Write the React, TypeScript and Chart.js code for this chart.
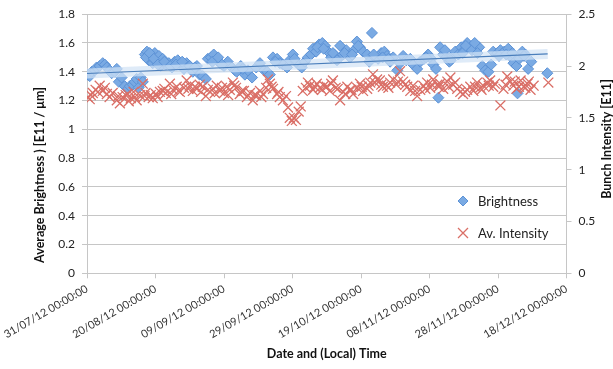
import React, { useEffect, useRef } from 'react';
import { Chart, registerables } from 'chart.js';

Chart.register(...registerables);

const FONT = 'Lato, "Open Sans", sans-serif';

const xTickLabels = [
  '31/07/12 00:00:00', '20/08/12 00:00:00', '09/09/12 00:00:00', '29/09/12 00:00:00',
  '19/10/12 00:00:00', '08/11/12 00:00:00', '28/11/12 00:00:00', '18/12/12 00:00:00',
];

// days since 31/07/12
const brightDays = [
  0.2, 0.8, 1.4, 2.3, 2.8, 3.7, 4.6, 5.2, 5.8, 6.6, 7.2, 8.1, 8.7, 9.3, 10.1, 11.0, 11.9, 12.5, 13.4, 13.9,
  14.5, 15.1, 15.7, 16.3, 16.9, 17.5, 18.0, 18.6, 19.2, 19.8, 20.4, 21.0, 21.5, 22.1, 23.0, 23.9, 24.8, 25.6, 26.5, 27.4,
  28.3, 29.1, 30.0, 30.9, 32.1, 32.9, 33.8, 34.7, 35.3, 36.2, 37.0, 37.9, 38.8, 40.0, 41.1, 42.3, 43.2, 43.7, 44.9, 46.1,
  47.0, 48.2, 49.4, 50.5, 51.7, 52.6, 53.4, 54.3, 55.5, 56.3, 57.2, 58.4, 59.2, 60.1, 61.0, 61.8, 62.7, 63.6, 64.5, 65.4,
  66.0, 66.9, 67.8, 68.7, 69.5, 70.4, 71.3, 72.2, 73.0, 73.9, 74.8, 75.7, 76.8, 78.0, 78.8, 79.7, 80.6, 81.8, 82.4, 83.2,
  84.1, 85.0, 85.9, 86.8, 87.6, 88.5, 89.4, 90.6, 91.4, 92.3, 93.2, 94.4, 95.2, 96.4, 97.3, 98.4, 99.6, 100.5, 101.1, 101.9,
  102.6, 103.1, 104.0, 104.9, 105.8, 106.6, 107.5, 108.4, 109.3, 110.1, 111.0, 111.9, 112.8, 113.6, 114.5, 115.4, 116.3, 117.2, 118.0, 118.6,
  119.8, 120.7, 121.8, 123.0, 123.9, 124.5, 125.4, 125.7, 126.2, 127.1, 128.0, 128.8, 129.7, 134.4,
  17.2, 18.3, 19.5, 20.7, 22.6, 24.3, 26.0, 27.8, 31.5, 36.6, 38.3, 39.4, 45.5, 55.0, 60.6, 67.3, 69.1, 71.8,
  75.2, 77.4, 79.2, 83.7, 86.3, 88.0, 99.0, 104.5, 106.2, 109.7, 110.6, 112.4, 113.2, 114.0, 120.3, 122.4, 124.2, 127.6,
];
const brightVals = [
  1.38, 1.37, 1.40, 1.41, 1.43, 1.44, 1.46, 1.45, 1.43, 1.41, 1.39, 1.40, 1.42, 1.33, 1.36, 1.30, 1.28, 1.30, 1.31, 1.33,
  1.35, 1.29, 1.36, 1.33, 1.52, 1.54, 1.48, 1.50, 1.46, 1.53, 1.47, 1.51, 1.44, 1.49, 1.45, 1.46, 1.43, 1.47, 1.48, 1.45,
  1.42, 1.46, 1.44, 1.40, 1.44, 1.38, 1.37, 1.35, 1.49, 1.50, 1.52, 1.48, 1.46, 1.44, 1.47, 1.43, 1.41, 1.40, 1.44, 1.38,
  1.41, 1.36, 1.43, 1.46, 1.41, 1.40, 1.38, 1.50, 1.49, 1.46, 1.45, 1.43, 1.48, 1.52, 1.47, 1.45, 1.43, 1.47, 1.50, 1.52,
  1.56, 1.54, 1.59, 1.60, 1.58, 1.54, 1.50, 1.52, 1.48, 1.58, 1.52, 1.55, 1.50, 1.55, 1.61, 1.57, 1.54, 1.52, 1.47, 1.67,
  1.50, 1.49, 1.53, 1.54, 1.51, 1.47, 1.50, 1.41, 1.46, 1.51, 1.48, 1.49, 1.45, 1.42, 1.47, 1.49, 1.52, 1.49, 1.45, 1.42,
  1.22, 1.57, 1.52, 1.50, 1.47, 1.51, 1.54, 1.52, 1.57, 1.55, 1.60, 1.57, 1.58, 1.55, 1.57, 1.44, 1.41, 1.40, 1.45, 1.54,
  1.53, 1.55, 1.54, 1.56, 1.50, 1.46, 1.44, 1.25, 1.49, 1.54, 1.52, 1.42, 1.47, 1.39,
  1.50, 1.53, 1.49, 1.45, 1.47, 1.44, 1.45, 1.47, 1.43, 1.47, 1.50, 1.45, 1.42, 1.47, 1.49, 1.57, 1.56, 1.53,
  1.53, 1.52, 1.58, 1.52, 1.50, 1.49, 1.50, 1.55, 1.48, 1.53, 1.58, 1.55, 1.60, 1.53, 1.51, 1.52, 1.53, 1.51,
];

const intensDays = [
  0.2, 0.8, 1.7, 2.5, 3.7, 4.6, 5.8, 6.6, 7.5, 8.7, 9.6, 10.4, 11.3, 11.9, 12.8, 13.6, 14.5, 15.4, 16.3, 17.1,
  18.0, 19.2, 20.1, 21.3, 22.1, 23.0, 24.2, 25.1, 26.2, 27.1, 28.3, 29.1, 30.0, 30.9, 32.1, 32.9, 33.8, 34.7, 35.9, 36.8,
  37.9, 38.8, 40.0, 40.8, 41.7, 42.6, 43.5, 44.6, 45.8, 46.7, 47.6, 48.4, 49.4, 50.5, 51.4, 52.3, 52.8, 53.4, 54.3, 55.5,
  56.3, 57.2, 58.1, 58.7, 59.2, 59.8, 60.4, 61.0, 61.8, 62.4, 63.0, 63.9, 65.1, 66.0, 67.1, 68.0, 69.2, 70.0, 70.9, 71.8,
  72.6, 73.9, 74.8, 76.0, 76.8, 77.7, 78.9, 79.7, 80.6, 81.8, 82.7, 83.5, 84.7, 85.5, 86.4, 87.6, 88.5, 89.4, 90.3, 91.4,
  92.3, 93.5, 94.4, 95.2, 96.4, 97.3, 98.2, 99.3, 100.2, 101.1, 102.3, 103.1, 104.0, 105.2, 106.1, 106.9, 108.1, 109.0, 109.8, 111.0,
  111.9, 112.8, 113.9, 114.8, 115.7, 116.9, 117.7, 118.6, 120.7, 121.6, 122.7, 123.6, 124.5, 125.4, 126.6, 127.5, 128.6, 129.5, 130.4, 134.7,
  1.1, 3.2, 5.2, 9.1, 12.2, 14.0, 16.8, 18.6, 20.6, 22.6, 24.6, 26.7, 29.6, 31.5, 33.3, 35.3, 37.3, 39.4, 41.2, 43.0,
  45.2, 48.9, 50.9, 53.9, 55.9, 64.5, 66.5, 68.6, 71.3, 73.2, 75.4, 77.2, 80.2, 82.2, 84.1, 85.9, 88.0, 90.8, 92.9, 95.8,
  98.8, 100.7, 102.7, 105.6, 107.5, 110.4, 113.3, 115.2, 117.3, 119.1, 122.2, 124.9, 126.1, 128.0, 129.0,
];
const intensVals = [
  1.70, 1.68, 1.74, 1.77, 1.81, 1.76, 1.73, 1.70, 1.74, 1.67, 1.64, 1.70, 1.72, 1.73, 1.69, 1.75, 1.67, 1.72, 1.83, 1.74,
  1.70, 1.69, 1.73, 1.75, 1.76, 1.74, 1.83, 1.77, 1.80, 1.75, 1.79, 1.86, 1.81, 1.76, 1.78, 1.82, 1.80, 1.71, 1.75, 1.78,
  1.81, 1.76, 1.74, 1.80, 1.77, 1.84, 1.79, 1.73, 1.76, 1.70, 1.74, 1.67, 1.72, 1.76, 1.73, 1.79, 1.87, 1.83, 1.78, 1.73,
  1.70, 1.67, 1.71, 1.60, 1.50, 1.47, 1.50, 1.48, 1.56, 1.61, 1.76, 1.79, 1.81, 1.77, 1.83, 1.79, 1.81, 1.80, 1.76, 1.86,
  1.79, 1.67, 1.75, 1.80, 1.77, 1.73, 1.79, 1.83, 1.76, 1.78, 1.84, 1.92, 1.87, 1.86, 1.80, 1.81, 1.84, 1.87, 1.82, 1.95,
  1.85, 1.80, 1.76, 1.81, 1.71, 1.77, 1.81, 1.84, 1.79, 1.87, 1.82, 1.83, 1.78, 1.85, 1.89, 1.82, 1.78, 1.75, 1.73, 1.77,
  1.80, 1.76, 1.84, 1.79, 1.81, 1.84, 1.86, 1.80, 1.62, 1.78, 1.90, 1.85, 1.81, 1.78, 1.86, 1.80, 1.83, 1.77, 1.81, 1.84,
  1.72, 1.75, 1.79, 1.71, 1.66, 1.70, 1.71, 1.72, 1.70, 1.78, 1.73, 1.76, 1.78, 1.80, 1.75, 1.77, 1.74, 1.79, 1.72, 1.81,
  1.76, 1.72, 1.70, 1.80, 1.75, 1.84, 1.80, 1.77, 1.83, 1.78, 1.73, 1.77, 1.80, 1.81, 1.84, 1.82, 1.79, 1.85, 1.82, 1.76,
  1.78, 1.82, 1.80, 1.80, 1.84, 1.75, 1.80, 1.77, 1.81, 1.83, 1.82, 1.85, 1.80, 1.79, 1.85,
];

const trendDays = [0, 134.5];
const trendVals = [1.388, 1.524];

const zip = (xs: number[], ys: number[]) => xs.map((x, i) => ({ x, y: ys[i] }));
const fmt = (v: number) => String(Math.round(v * 10) / 10);

const BLUE_FILL = '#7AAAE3';
const BLUE_BORDER = '#5C92D6';
const RED = '#DA6F67';
const GRID = '#C6C6C6';

export default function App() {
  const ref = useRef<HTMLCanvasElement | null>(null);

  useEffect(() => {
    const canvas = ref.current;
    if (!canvas) return;

    const overlay = {
      id: 'overlay',
      afterDraw(chart: any) {
        const ctx = chart.ctx;
        const area = chart.chartArea;
        ctx.save();
        ctx.fillStyle = '#111';
        ctx.font = `bold 12.5px ${FONT}`;
        ctx.textAlign = 'center';
        ctx.textBaseline = 'middle';
        ctx.save();
        ctx.translate(40, 175);
        ctx.rotate(-Math.PI / 2);
        ctx.fillText('Average Brightness ) [E11 / \u03bcm]', 0, 0);
        ctx.restore();
        ctx.save();
        ctx.translate(607, 139);
        ctx.rotate(-Math.PI / 2);
        ctx.fillText('Bunch Intensity [E11]', 0, 0);
        ctx.restore();
        ctx.fillText('Date and (Local) Time', (area.left + area.right) / 2, 354);

        const items = [
          { ds: chart.data.datasets[3], y: 201 },
          { ds: chart.data.datasets[2], y: 233 },
        ];
        ctx.font = `13px ${FONT}`;
        ctx.textAlign = 'left';
        items.forEach((it, i) => {
          const mx = 463;
          if (i === 0) {
            ctx.beginPath();
            ctx.moveTo(mx, it.y - 5);
            ctx.lineTo(mx + 5, it.y);
            ctx.lineTo(mx, it.y + 5);
            ctx.lineTo(mx - 5, it.y);
            ctx.closePath();
            ctx.fillStyle = BLUE_FILL;
            ctx.fill();
            ctx.strokeStyle = BLUE_BORDER;
            ctx.lineWidth = 1;
            ctx.stroke();
          } else {
            ctx.beginPath();
            ctx.moveTo(mx - 5, it.y - 5);
            ctx.lineTo(mx + 5, it.y + 5);
            ctx.moveTo(mx + 5, it.y - 5);
            ctx.lineTo(mx - 5, it.y + 5);
            ctx.strokeStyle = RED;
            ctx.lineWidth = 1.3;
            ctx.stroke();
          }
          ctx.fillStyle = '#222';
          ctx.fillText(it.ds.label, 478, it.y + 1);
        });
        ctx.restore();
      },
    };

    const chart = new Chart(canvas, {
      type: 'scatter',
      data: {
        datasets: [
          {
            label: 'Trend',
            type: 'line',
            data: zip(trendDays, trendVals),
            yAxisID: 'y',
            borderColor: '#4A7EBB',
            borderWidth: 1.2,
            pointRadius: 0,
            fill: false,
            order: 0,
          },
          {
            label: 'TrendGlow',
            type: 'line',
            data: zip(trendDays, trendVals),
            yAxisID: 'y',
            borderColor: 'rgba(210,226,245,0.7)',
            borderWidth: 10,
            pointRadius: 0,
            fill: false,
            order: 1,
          },
          {
            label: 'Av. Intensity',
            data: zip(intensDays, intensVals),
            yAxisID: 'y2',
            pointStyle: 'crossRot',
            pointRadius: 7,
            borderColor: RED,
            backgroundColor: RED,
            pointBorderWidth: 1.3,
            order: 2,
          },
          {
            label: 'Brightness',
            data: zip(brightDays, brightVals),
            yAxisID: 'y',
            pointStyle: 'rectRot',
            pointRadius: 5.5,
            backgroundColor: BLUE_FILL,
            borderColor: BLUE_BORDER,
            pointBorderWidth: 1,
            order: 3,
          },
        ],
      },
      options: {
        responsive: false,
        animation: false,
        devicePixelRatio: 1,
        layout: { padding: { top: 8, left: 0, right: 0, bottom: 0 } },
        plugins: { legend: { display: false }, tooltip: { enabled: false } },
        scales: {
          x: {
            type: 'linear',
            min: 0,
            max: 140,
            afterFit: (s: any) => { s.height = 95.7; },
            ticks: {
              stepSize: 20,
              minRotation: 30,
              maxRotation: 30,
              padding: 4,
              color: '#333',
              font: { family: FONT, size: 11 },
              callback: (v: any) => xTickLabels[Math.round(Number(v) / 20)] ?? '',
            },
            grid: { display: true, drawOnChartArea: false, tickLength: 5, color: GRID },
            border: { color: GRID },
          },
          y: {
            position: 'left',
            min: 0,
            max: 1.8,
            afterFit: (s: any) => { s.width = 87; },
            ticks: {
              stepSize: 0.2,
              padding: 7,
              color: '#222',
              font: { family: FONT, size: 12 },
              callback: (v: any) => fmt(Number(v)),
            },
            grid: { color: GRID, tickLength: 5 },
            border: { color: GRID },
          },
          y2: {
            position: 'right',
            min: 0,
            max: 2.5,
            afterFit: (s: any) => { s.width = 46.5; },
            ticks: {
              stepSize: 0.5,
              padding: 7,
              color: '#222',
              font: { family: FONT, size: 12 },
              callback: (v: any) => fmt(Number(v)),
            },
            grid: { drawOnChartArea: false, tickLength: 5, color: GRID },
            border: { color: GRID },
          },
        },
      },
      plugins: [overlay],
    } as any);

    return () => chart.destroy();
  }, []);

  return (
    <div style={{ position: 'absolute', left: 0, top: 0, width: 613, height: 369, background: '#fff' }}>
      <canvas ref={ref} width={613} height={369} />
    </div>
  );
}
